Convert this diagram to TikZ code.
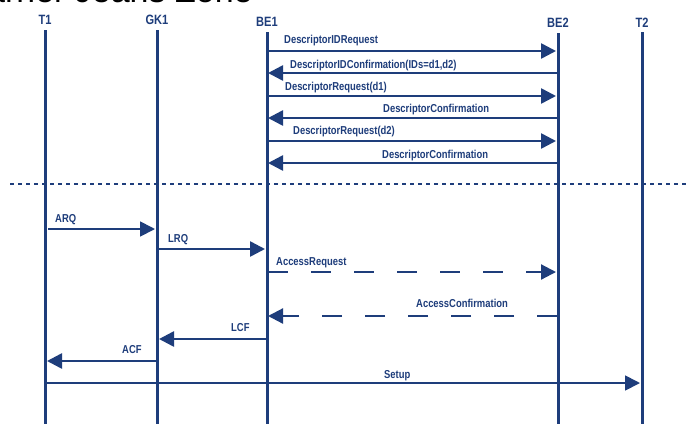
\documentclass[tikz,border=0pt]{standalone}
\usepackage{fontspec}
\setmainfont{Liberation Sans}
\newfontfamily\msgfont[FakeStretch=0.82]{Liberation Sans}
\usetikzlibrary{arrows.meta}
\definecolor{navy}{HTML}{1E3D7B}
\tikzset{
  x=1pt, y=-1pt,
  lifeline/.style={draw=navy, line width=3pt},
  head/.style={text=navy, font=\msgfont\bfseries\fontsize{13.5}{14}\selectfont, inner sep=0pt},
  msg/.style={draw=navy, line width=2.6pt, -{Triangle[length=15pt,width=15pt]}},
  thinmsg/.style={msg, line width=1.8pt},
  dashmsg/.style={msg, line width=2.2pt, dash pattern=on 20pt off 23pt},
  lbl/.style={text=navy, font=\msgfont\bfseries\fontsize{11.5}{12}\selectfont, inner sep=0pt, anchor=base west},
  sep/.style={draw=navy, line width=2pt, dash pattern=on 4pt off 4pt}
}
\begin{document}
\begin{tikzpicture}
\useasboundingbox (0,0) rectangle (688,424);
\fill[white] (0,0) rectangle (688,424);

% heading, cut off at the top edge
\begin{scope}
\clip (0,0) rectangle (688,424);
\node[anchor=base west, inner sep=0pt, font=\fontsize{34}{34}\selectfont] (title) at (-14,2) {arrier Jeans Zone};
\end{scope}

% participants
\node[head, anchor=base] (nT1) at (45,24) {T1};
\node[head, anchor=base] (nGK1) at (157,24) {GK1};
\node[head, anchor=base] (nBE1) at (267,26) {BE1};
\node[head, anchor=base] (nBE2) at (558,27) {BE2};
\node[head, anchor=base] (nT2) at (642,27) {T2};

% lifeline ends
\coordinate (t1top) at (45,30);   \coordinate (t1bot) at (45,424);
\coordinate (gktop) at (157,30);  \coordinate (gkbot) at (157,424);
\coordinate (b1top) at (267,32);  \coordinate (b1bot) at (267,424);
\coordinate (b2top) at (558,33);  \coordinate (b2bot) at (558,424);
\coordinate (t2top) at (642,32);  \coordinate (t2bot) at (642,424);

\draw[lifeline] (t1top) -- (t1bot);
\draw[lifeline] (gktop) -- (gkbot);
\draw[lifeline] (b1top) -- (b1bot);
\draw[lifeline] (b2top) -- (b2bot);
\draw[lifeline] (t2top) -- (t2bot);

% descriptor exchange between the border elements
\coordinate (a1) at (268,51);  \coordinate (a2) at (556,51);
\coordinate (c1) at (557,73);  \coordinate (c2) at (268,73);
\coordinate (d1) at (268,96);  \coordinate (d2) at (556,96);
\coordinate (e1) at (557,118); \coordinate (e2) at (268,118);
\coordinate (f1) at (268,141); \coordinate (f2) at (556,141);
\coordinate (g1) at (557,163); \coordinate (g2) at (268,163);

\draw[msg] (a1) -- (a2);
\draw[msg] (c1) -- (c2);
\draw[msg] (d1) -- (d2);
\draw[msg] (e1) -- (e2);
\draw[msg] (f1) -- (f2);
\draw[msg] (g1) -- (g2);

\node[lbl] (l1) at (284,43) {DescriptorIDRequest};
\node[lbl] (l2) at (290,68) {DescriptorIDConfirmation(IDs=d1,d2)};
\node[lbl] (l3) at (285,90) {DescriptorRequest(d1)};
\node[lbl] (l4) at (383,112) {DescriptorConfirmation};
\node[lbl] (l5) at (293,134) {DescriptorRequest(d2)};
\node[lbl] (l6) at (382,158) {DescriptorConfirmation};

% separator
\coordinate (s1) at (10,184); \coordinate (s2) at (688,184);
\draw[sep] (s1) -- (s2);

% admission sequence
\coordinate (h1) at (48,229);  \coordinate (h2) at (155,229);
\coordinate (i1) at (159,249); \coordinate (i2) at (265,249);
\coordinate (j1) at (268,272); \coordinate (j2) at (556,272);
\coordinate (k1) at (557,316); \coordinate (k2) at (268,316);
\coordinate (m1) at (266,339); \coordinate (m2) at (159,339);
\coordinate (n1) at (156,361); \coordinate (n2) at (47,361);
\coordinate (o1) at (46,383);  \coordinate (o2) at (640,383);

\draw[thinmsg] (h1) -- (h2);
\draw[msg] (i1) -- (i2);
\draw[dashmsg] (j1) -- (j2);
\draw[dashmsg] (k1) -- (k2);
\draw[msg] (m1) -- (m2);
\draw[msg] (n1) -- (n2);
\draw[thinmsg] (o1) -- (o2);

\node[lbl] (l7) at (55,222) {ARQ};
\node[lbl] (l8) at (168,242) {LRQ};
\node[lbl] (l9) at (276,265) {AccessRequest};
\node[lbl] (l10) at (416,307) {AccessConfirmation};
\node[lbl] (l11) at (231,331) {LCF};
\node[lbl] (l12) at (122,353) {ACF};
\node[lbl] (l13) at (384,378) {Setup};
\end{tikzpicture}
\end{document}
